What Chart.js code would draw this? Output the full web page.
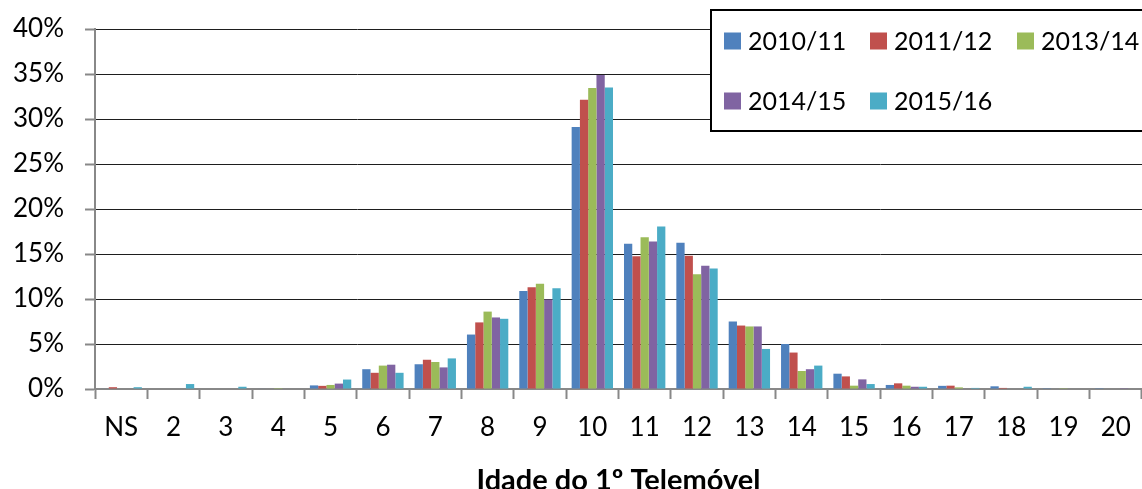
<!DOCTYPE html>
<html>
<head>
<meta charset="utf-8">
<script src="https://cdn.jsdelivr.net/npm/chart.js@4.4.1/dist/chart.umd.min.js"></script>
<style>
  html, body { margin: 0; padding: 0; background: #fff; }
  #wrap { width: 1142px; height: 489px; position: relative; }
</style>
</head>
<body>
<div id="wrap"><canvas id="c" width="1142" height="489"></canvas></div>
<script>
const categories = ['NS','2','3','4','5','6','7','8','9','10','11','12','13','14','15','16','17','18','19','20'];
const seriesNames = ['2010/11','2011/12','2013/14','2014/15','2015/16'];
const seriesColors = ['#4F81BD','#C0504D','#9BBB59','#8064A2','#4BACC6'];
const s2010_11 = [0.05, 0, 0, 0.05, 0.4, 2.2, 2.75, 6.05, 10.9, 29.1, 16.15, 16.25, 7.5, 5.0, 1.7, 0.45, 0.35, 0.3, 0.02, 0.02];
const s2011_12 = [0.2, 0, 0, 0, 0.35, 1.8, 3.25, 7.4, 11.3, 32.15, 14.75, 14.8, 7.05, 4.05, 1.4, 0.63, 0.37, 0.12, 0, 0];
const s2013_14 = [0, 0, 0, 0.1, 0.45, 2.6, 3.0, 8.6, 11.7, 33.45, 16.85, 12.75, 6.95, 2.0, 0.37, 0.37, 0.18, 0, 0.02, 0];
const s2014_15 = [0, 0, 0, 0, 0.6, 2.7, 2.4, 7.95, 9.95, 34.9, 16.4, 13.7, 6.95, 2.2, 1.07, 0.25, 0.05, 0, 0, 0.02];
const s2015_16 = [0.2, 0.55, 0.25, 0, 1.05, 1.8, 3.4, 7.8, 11.2, 33.5, 18.05, 13.4, 4.45, 2.6, 0.55, 0.25, 0.12, 0.25, 0, 0];
const yTickValues = [0,5,10,15,20,25,30,35,40];
const xTitle = 'Idade do 1º Telemóvel';

const allSeries = [s2010_11, s2011_12, s2013_14, s2014_15, s2015_16];
const FONT = 'Lato';
const AXIS_GREY = '#888888';

const legendPlugin = {
  id: 'boxLegend',
  afterDraw(chart) {
    const ctx = chart.ctx;
    ctx.save();
    const bx = 711, by = 10, bw = 460, bh = 121;
    ctx.fillStyle = '#ffffff';
    ctx.fillRect(bx, by, bw, bh);
    ctx.lineWidth = 2;
    ctx.strokeStyle = '#000000';
    ctx.strokeRect(bx, by, bw, bh);
    const cols = [724, 870, 1017];
    const rows = [41, 101];
    ctx.font = '25px ' + FONT;
    ctx.textBaseline = 'middle';
    ctx.textAlign = 'left';
    chart.data.datasets.forEach((ds, i) => {
      const x = cols[i % 3];
      const y = rows[Math.floor(i / 3)];
      ctx.fillStyle = ds.backgroundColor;
      ctx.fillRect(x, y - 8.5, 17, 17);
      ctx.fillStyle = '#000000';
      ctx.fillText(ds.label, x + 24, y + 1);
    });
    ctx.restore();
  }
};

new Chart(document.getElementById('c'), {
  type: 'bar',
  data: {
    labels: categories,
    datasets: seriesNames.map((name, i) => ({
      label: name,
      data: allSeries[i],
      backgroundColor: seriesColors[i],
      borderWidth: 0,
      categoryPercentage: 0.79,
      barPercentage: 1.0
    }))
  },
  options: {
    responsive: false,
    animation: false,
    devicePixelRatio: 1,
    layout: { padding: { top: 29, right: 0, left: 0, bottom: 0 } },
    plugins: {
      legend: { display: false },
      tooltip: { enabled: false }
    },
    scales: {
      x: {
        grid: {
          offset: true,
          drawOnChartArea: false,
          drawTicks: true,
          tickLength: 10,
          tickColor: AXIS_GREY,
          tickWidth: 2
        },
        border: { display: true, color: AXIS_GREY, width: 2 },
        ticks: {
          color: '#000',
          font: { family: FONT, size: 26 },
          padding: 13,
          maxRotation: 0,
          autoSkip: false
        },
        title: {
          display: true,
          text: xTitle,
          color: '#000',
          font: { family: FONT, size: 29, weight: 'bold' },
          padding: { top: 0, bottom: -9 }
        },
        afterFit(scale) { scale.height = 100; scale.paddingLeft = 0; scale.paddingRight = 0; }
      },
      y: {
        min: 0,
        max: 40,
        z: 1,
        afterBuildTicks(scale) { scale.ticks = yTickValues.map(v => ({ value: v })); },
        grid: {
          color: (c) => (c.tick && c.tick.value === 0) ? 'rgba(0,0,0,0)' : '#1e1e1e',
          lineWidth: 1,
          drawTicks: true,
          tickLength: 10,
          tickColor: AXIS_GREY,
          tickWidth: 2
        },
        border: { display: true, color: AXIS_GREY, width: 2 },
        ticks: {
          color: '#000',
          font: { family: FONT, size: 26 },
          padding: 21,
          callback: (v) => v + '%'
        },
        afterFit(scale) { scale.width = 95; scale.paddingTop = 0; scale.paddingBottom = 0; }
      }
    }
  },
  plugins: [legendPlugin]
});
</script>
</body>
</html>
